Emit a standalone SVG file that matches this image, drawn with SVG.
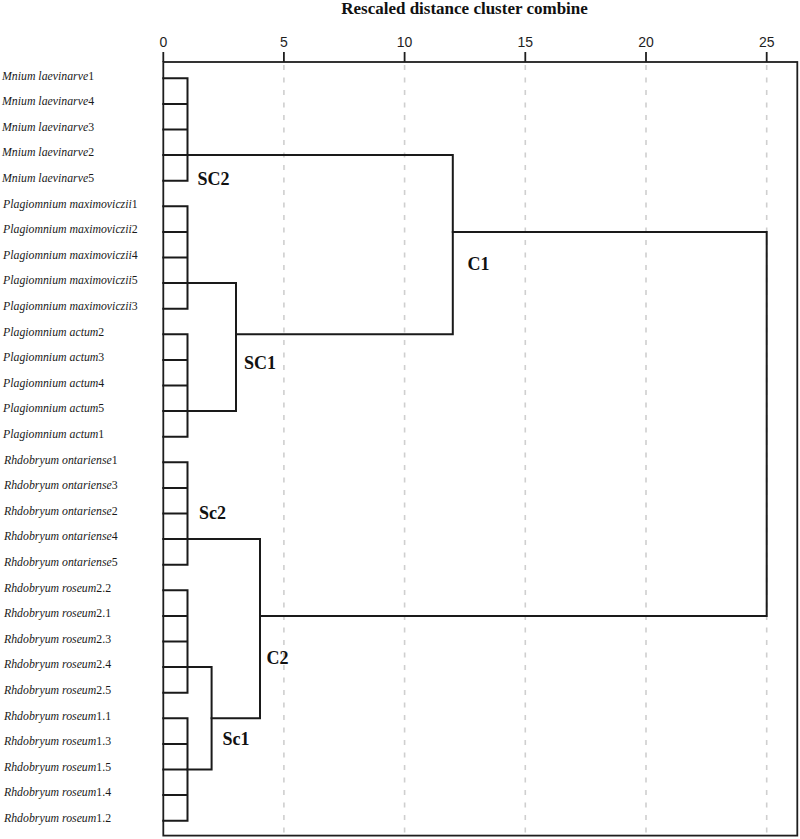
<svg xmlns="http://www.w3.org/2000/svg" width="800" height="839" viewBox="0 0 800 839">
<style>
.bg{fill:#ffffff}
.grid{stroke:#cfcfcf;stroke-width:1.6;stroke-dasharray:5 7.5;fill:none}
.frame{stroke:#1e1e1e;stroke-width:1.8;fill:none}
.tick{stroke:#1e1e1e;stroke-width:1.8}
.ticklbl{font-family:"Liberation Sans",Arial,sans-serif;font-size:14px;fill:#1e1e1e;text-anchor:middle}
.title{font-family:"Liberation Serif","Times New Roman",serif;font-size:17px;font-weight:bold;fill:#111;text-anchor:middle}
.leaf{font-family:"Liberation Serif","Times New Roman",serif;font-size:11.8px;fill:#1a1a1a}
.leaf tspan.sp{font-style:italic}
.cl{font-family:"Liberation Serif","Times New Roman",serif;font-size:18px;font-weight:bold;fill:#111}
.ln{stroke:#1a1a1a;stroke-width:2;fill:none;stroke-linecap:square}
</style>
<rect class="bg" x="0" y="0" width="800" height="839"/>
<text class="title" x="464.5" y="14">Rescaled distance cluster combine</text>
<g id="axis">
<line class="grid" x1="283.9" y1="65" x2="283.9" y2="835"/>
<line class="grid" x1="404.6" y1="65" x2="404.6" y2="835"/>
<line class="grid" x1="525.3" y1="65" x2="525.3" y2="835"/>
<line class="grid" x1="646" y1="65" x2="646" y2="835"/>
<line class="grid" x1="766.7" y1="65" x2="766.7" y2="835"/>
<rect class="frame" x="163.3" y="62" width="634" height="773.6"/>
<line class="tick" x1="163.3" y1="52" x2="163.3" y2="62"/>
<line class="tick" x1="283.9" y1="52" x2="283.9" y2="62"/>
<line class="tick" x1="404.6" y1="52" x2="404.6" y2="62"/>
<line class="tick" x1="525.3" y1="52" x2="525.3" y2="62"/>
<line class="tick" x1="646" y1="52" x2="646" y2="62"/>
<line class="tick" x1="766.7" y1="52" x2="766.7" y2="62"/>
<text class="ticklbl" x="163.3" y="47">0</text>
<text class="ticklbl" x="283.9" y="47">5</text>
<text class="ticklbl" x="404.6" y="47">10</text>
<text class="ticklbl" x="525.3" y="47">15</text>
<text class="ticklbl" x="646" y="47">20</text>
<text class="ticklbl" x="766.7" y="47">25</text>
</g>
<g id="leaves">
<g id="leaf-0"><text class="leaf" x="2" y="79.5"><tspan class="sp">Mnium laevinarve</tspan>1</text></g>
<g id="leaf-1"><text class="leaf" x="2" y="105.1"><tspan class="sp">Mnium laevinarve</tspan>4</text></g>
<g id="leaf-2"><text class="leaf" x="2" y="130.7"><tspan class="sp">Mnium laevinarve</tspan>3</text></g>
<g id="leaf-3"><text class="leaf" x="2" y="156.3"><tspan class="sp">Mnium laevinarve</tspan>2</text></g>
<g id="leaf-4"><text class="leaf" x="2" y="181.9"><tspan class="sp">Mnium laevinarve</tspan>5</text></g>
<g id="leaf-5"><text class="leaf" x="3" y="207.5"><tspan class="sp">Plagiomnium maximoviczii</tspan>1</text></g>
<g id="leaf-6"><text class="leaf" x="3" y="233.1"><tspan class="sp">Plagiomnium maximoviczii</tspan>2</text></g>
<g id="leaf-7"><text class="leaf" x="3" y="258.7"><tspan class="sp">Plagiomnium maximoviczii</tspan>4</text></g>
<g id="leaf-8"><text class="leaf" x="3" y="284.3"><tspan class="sp">Plagiomnium maximoviczii</tspan>5</text></g>
<g id="leaf-9"><text class="leaf" x="3" y="309.9"><tspan class="sp">Plagiomnium maximoviczii</tspan>3</text></g>
<g id="leaf-10"><text class="leaf" x="3" y="335.5"><tspan class="sp">Plagiomnium actum</tspan>2</text></g>
<g id="leaf-11"><text class="leaf" x="3" y="361.1"><tspan class="sp">Plagiomnium actum</tspan>3</text></g>
<g id="leaf-12"><text class="leaf" x="3" y="386.7"><tspan class="sp">Plagiomnium actum</tspan>4</text></g>
<g id="leaf-13"><text class="leaf" x="3" y="412.3"><tspan class="sp">Plagiomnium actum</tspan>5</text></g>
<g id="leaf-14"><text class="leaf" x="3" y="437.9"><tspan class="sp">Plagiomnium actum</tspan>1</text></g>
<g id="leaf-15"><text class="leaf" x="4" y="463.5"><tspan class="sp">Rhdobryum ontariense</tspan>1</text></g>
<g id="leaf-16"><text class="leaf" x="4" y="489.1"><tspan class="sp">Rhdobryum ontariense</tspan>3</text></g>
<g id="leaf-17"><text class="leaf" x="4" y="514.7"><tspan class="sp">Rhdobryum ontariense</tspan>2</text></g>
<g id="leaf-18"><text class="leaf" x="4" y="540.3"><tspan class="sp">Rhdobryum ontariense</tspan>4</text></g>
<g id="leaf-19"><text class="leaf" x="4" y="565.9"><tspan class="sp">Rhdobryum ontariense</tspan>5</text></g>
<g id="leaf-20"><text class="leaf" x="4" y="591.5"><tspan class="sp">Rhdobryum roseum</tspan>2.2</text></g>
<g id="leaf-21"><text class="leaf" x="4" y="617.1"><tspan class="sp">Rhdobryum roseum</tspan>2.1</text></g>
<g id="leaf-22"><text class="leaf" x="4" y="642.7"><tspan class="sp">Rhdobryum roseum</tspan>2.3</text></g>
<g id="leaf-23"><text class="leaf" x="4" y="668.3"><tspan class="sp">Rhdobryum roseum</tspan>2.4</text></g>
<g id="leaf-24"><text class="leaf" x="4" y="693.9"><tspan class="sp">Rhdobryum roseum</tspan>2.5</text></g>
<g id="leaf-25"><text class="leaf" x="4" y="719.5"><tspan class="sp">Rhdobryum roseum</tspan>1.1</text></g>
<g id="leaf-26"><text class="leaf" x="4" y="745.1"><tspan class="sp">Rhdobryum roseum</tspan>1.3</text></g>
<g id="leaf-27"><text class="leaf" x="4" y="770.7"><tspan class="sp">Rhdobryum roseum</tspan>1.5</text></g>
<g id="leaf-28"><text class="leaf" x="4" y="796.3"><tspan class="sp">Rhdobryum roseum</tspan>1.4</text></g>
<g id="leaf-29"><text class="leaf" x="4" y="821.9"><tspan class="sp">Rhdobryum roseum</tspan>1.2</text></g>
</g>
<g id="connectors">
<path class="ln" d="M163.3 78.3H187.5M163.3 103.9H187.5M163.3 129.5H187.5M163.3 155.1H187.5M163.3 180.7H187.5M187.5 78.3V180.7"/>
<path class="ln" d="M163.3 206.3H187.5M163.3 231.9H187.5M163.3 257.5H187.5M163.3 283.1H187.5M163.3 308.7H187.5M187.5 206.3V308.7"/>
<path class="ln" d="M163.3 334.3H187.5M163.3 359.9H187.5M163.3 385.5H187.5M163.3 411.1H187.5M163.3 436.7H187.5M187.5 334.3V436.7"/>
<path class="ln" d="M163.3 462.3H187.5M163.3 487.9H187.5M163.3 513.5H187.5M163.3 539.1H187.5M163.3 564.7H187.5M187.5 462.3V564.7"/>
<path class="ln" d="M163.3 590.3H187.5M163.3 615.9H187.5M163.3 641.5H187.5M163.3 667.1H187.5M163.3 692.7H187.5M187.5 590.3V692.7"/>
<path class="ln" d="M163.3 718.3H187.5M163.3 743.9H187.5M163.3 769.5H187.5M163.3 795.1H187.5M163.3 820.7H187.5M187.5 718.3V820.7"/>
<path class="ln" d="M187.5 283.1H236M187.5 411.1H236M236 283.1V411.1"/>
<path class="ln" d="M187.5 155.1H452.8M236 334.3H452.8M452.8 155.1V334.3"/>
<path class="ln" d="M187.5 667.1H211.6M187.5 769.5H211.6M211.6 667.1V769.5"/>
<path class="ln" d="M187.5 539.1H260M211.6 718.3H260M260 539.1V718.3"/>
<path class="ln" d="M452.8 231.9H766.7M260 615.9H766.7M766.7 231.9V615.9"/>
</g>
<g id="cluster-labels">
<g id="SC2"><text class="cl" x="197.5" y="184.5">SC2</text></g>
<g id="SC1"><text class="cl" x="244" y="368.5">SC1</text></g>
<g id="C1"><text class="cl" x="467.5" y="270">C1</text></g>
<g id="Sc2"><text class="cl" x="199" y="519">Sc2</text></g>
<g id="C2"><text class="cl" x="266.5" y="663.5">C2</text></g>
<g id="Sc1"><text class="cl" x="222.5" y="745">Sc1</text></g>
</g>
</svg>
